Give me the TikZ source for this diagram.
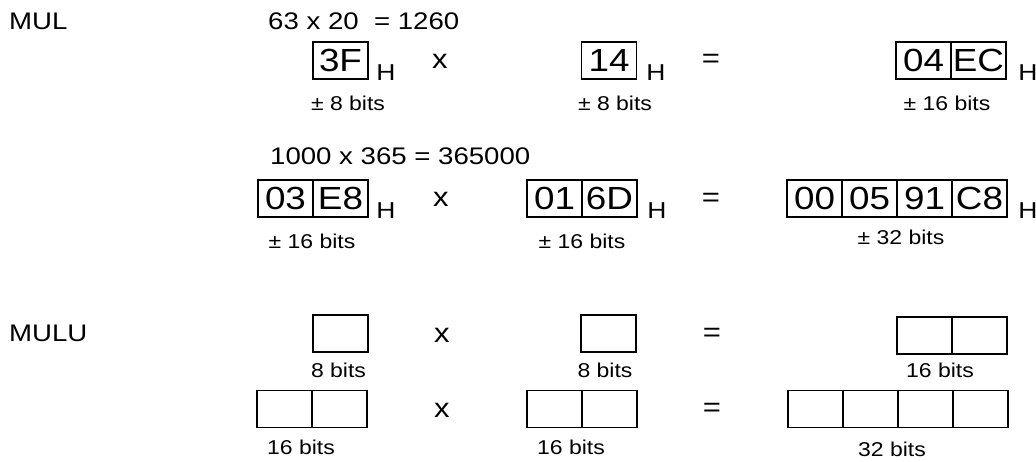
\documentclass[tikz,border=0pt]{standalone}
\usepackage{fontspec}
\setmainfont[FakeStretch=1.15]{Liberation Sans}
\usetikzlibrary{positioning}
\begin{document}
\begin{tikzpicture}[x=1pt,y=-1pt,
  cell/.style={draw,line width=1.6pt,outer sep=0pt,inner sep=0pt,
    minimum width=55pt,minimum height=37pt,font=\fontsize{32}{32}\selectfont},
  hx/.style={anchor=base,inner sep=0pt,font=\fontsize{23}{23}\selectfont},
  op/.style={inner sep=0pt,font=\fontsize{27}{27}\selectfont},
  bits/.style={anchor=base,inner sep=0pt,font=\fontsize{20}{20}\selectfont},
  head/.style={anchor=base west,inner sep=0pt,font=\fontsize{24}{24}\selectfont}]
\useasboundingbox (0,0) rectangle (1036,461);
% MUL, 8 bits
\node[head] (mul) at (9,29) {MUL};
\node[head] (ex1) at (268,29) {63 x 20~ = 1260};
\node[cell] (a1) at (340.5,60.5) {3F};
\node[hx] (ha1) at (386,80) {H};
\node[op] (x1) at (440,61) {x};
\node[cell] (b1) at (609,60.5) {14};
\node[hx] (hb1) at (656,80) {H};
\node[op] (e1) at (711,61) {=};
\node[cell] (c1) at (923.5,60.5) {04};
\node[cell,right=0pt of c1] (c2) {EC};
\node[hx] (hc1) at (1028,80) {H};
\node[bits] (la1) at (348,110) {± 8 bits};
\node[bits] (lb1) at (615,110) {± 8 bits};
\node[bits] (lc1) at (947,110) {± 16 bits};
% MUL, 16 bits
\node[head] (ex2) at (270,164) {1000 x 365 = 365000};
\node[cell] (a21) at (285.5,198.5) {03};
\node[cell,right=0pt of a21] (a22) {E8};
\node[hx] (ha2) at (386,218) {H};
\node[op] (x2) at (441,199) {x};
\node[cell] (b21) at (554.5,198.5) {01};
\node[cell,right=0pt of b21] (b22) {6D};
\node[hx] (hb2) at (657,218) {H};
\node[op] (e2) at (711,200) {=};
\node[cell] (c21) at (814.5,198.5) {00};
\node[cell,right=0pt of c21] (c22) {05};
\node[cell,right=0pt of c22] (c23) {91};
\node[cell,right=0pt of c23] (c24) {C8};
\node[hx] (hc2) at (1028,218) {H};
\node[bits] (la2) at (312,248) {± 16 bits};
\node[bits] (lb2) at (582,248) {± 16 bits};
\node[bits] (lc2) at (901,244) {± 32 bits};
% MULU
\node[head] (mulu) at (9,341) {MULU};
\node[cell] (a3) at (340.5,333.5) {};
\node[op] (x3) at (442,335) {x};
\node[cell] (b3) at (608.5,333.5) {};
\node[op] (e3) at (712,335) {=};
\node[cell] (c31) at (924.5,335.5) {};
\node[cell,right=0pt of c31] (c32) {};
\node[bits] (la3) at (338.5,377) {8 bits};
\node[bits] (lb3) at (605,377) {8 bits};
\node[bits] (lc3) at (940,377) {16 bits};
\node[cell] (a41) at (284.5,409) {};
\node[cell,right=0pt of a41] (a42) {};
\node[op] (x4) at (442,410) {x};
\node[cell] (b41) at (554.5,409) {};
\node[cell,right=0pt of b41] (b42) {};
\node[op] (e4) at (712,410) {=};
\node[cell] (c41) at (815.5,409) {};
\node[cell,right=0pt of c41] (c42) {};
\node[cell,right=0pt of c42] (c43) {};
\node[cell,right=0pt of c43] (c44) {};
\node[bits] (la4) at (301,454) {16 bits};
\node[bits] (lb4) at (571,454) {16 bits};
\node[bits] (lc4) at (892,456) {32 bits};
\end{tikzpicture}
\end{document}
